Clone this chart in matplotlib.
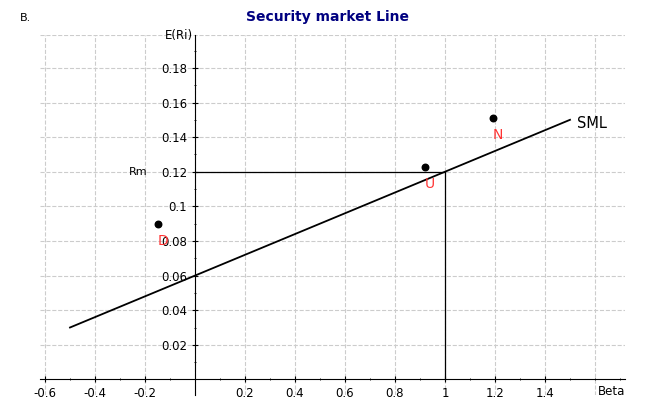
import matplotlib
matplotlib.use("Agg")
import matplotlib.pyplot as plt
import numpy as np

sml_beta = [-0.5, 1.5]
sml_ret = [0.03, 0.15]
pt_names = ["D", "U", "N"]
pt_beta = [-0.15, 0.92, 1.19]
pt_ret = [0.090, 0.123, 0.151]
rm_beta = 1.0
rm_ret = 0.12
xticks = [-0.6, -0.4, -0.2, 0.2, 0.4, 0.6, 0.8, 1, 1.2, 1.4]
yticks = [0.02, 0.04, 0.06, 0.08, 0.1, 0.12, 0.14, 0.16, 0.18]

fig = plt.figure(figsize=(6.55, 4.04), dpi=100)
ax = fig.add_axes([40/655, 9/404, 585/655, 360/404])
xmin, xmax = -0.62, 1.72
ymin, ymax = -0.009, 0.199
ax.set_xlim(xmin, xmax); ax.set_ylim(ymin, ymax)
for s in ["top", "right"]:
    ax.spines[s].set_visible(False)
ax.spines["left"].set_position(("data", 0))
ax.spines["bottom"].set_position(("data", 0))
ax.set_xticks(xticks)
ax.set_xticklabels([f"{v:g}" for v in xticks], fontsize=8.5)
ax.set_yticks(yticks)
ax.set_yticklabels([f"{v:g}" for v in yticks], fontsize=8.5)
ax.set_xticks(np.arange(-0.6, 1.71, 0.1), minor=True)
ax.set_yticks(np.arange(0.01, 0.199, 0.01), minor=True)
ax.tick_params(length=4, direction="inout")
ax.tick_params(which="minor", length=2, direction="inout")
for v in xticks + [0, 1.6]:
    ax.axvline(v, color="#cccccc", ls="--", lw=0.8, zorder=0)
for v in yticks:
    ax.axhline(v, color="#cccccc", ls="--", lw=0.8, zorder=0)
ax.axhline(0.2 - 0.001, color="#cccccc", ls="--", lw=0.8, zorder=0)

ax.plot(sml_beta, sml_ret, color="black", lw=1.3)
ax.plot([0, rm_beta], [rm_ret, rm_ret], color="black", lw=0.9)
ax.plot([rm_beta, rm_beta], [0, rm_ret], color="black", lw=0.9)
ax.scatter(pt_beta, pt_ret, color="black", s=22, zorder=5)
for n, b, r in zip(pt_names, pt_beta, pt_ret):
    ax.text(b, r - 0.006, n, color="#ff3333", fontsize=10, ha="left", va="top")
ax.text(1.53, 0.148, "SML", fontsize=10.5, ha="left", va="center")
ax.text(-0.19, 0.12, "Rm", fontsize=8, ha="right", va="center")
ax.text(1.72, -0.003, "Beta", fontsize=8.5, ha="right", va="top")
ax.text(-0.01, 0.199, "E(Ri)", fontsize=8.5, ha="right", va="center")
fig.text(20/655, 1 - 18/404, "B.", fontsize=8, va="center")
fig.text(0.5, 1 - 17/404, "Security market Line", color="#000080",
         fontsize=10, fontweight="bold", ha="center", va="center")
fig.savefig("out.png", dpi=100)
